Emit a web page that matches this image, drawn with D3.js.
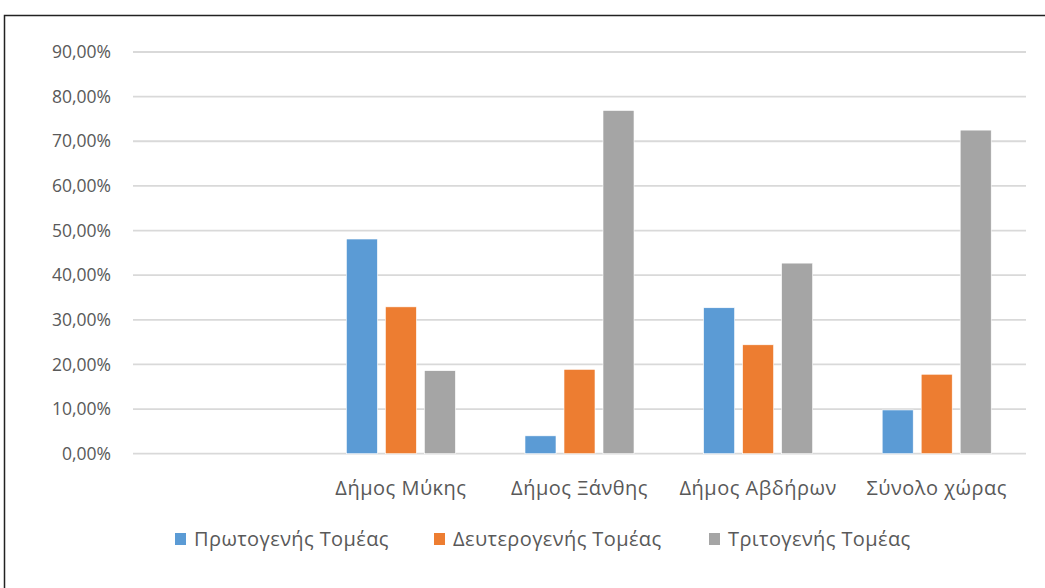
<!DOCTYPE html>
<html>
<head>
<meta charset="utf-8">
<script src="https://cdn.jsdelivr.net/npm/d3@7"></script>
<style>
  html, body { margin: 0; padding: 0; background: #fff; }
  svg { display: block; font-family: "Open Sans", sans-serif; }
</style>
</head>
<body>
<svg id="chart" width="1045" height="588"></svg>
<script>
// Categories (the first slot is an empty category in the source sheet)
const categories = ["", "Δήμος Μύκης", "Δήμος Ξάνθης", "Δήμος Αβδήρων", "Σύνολο χώρας"];
const seriesNames = ["Πρωτογενής Τομέας", "Δευτερογενής Τομέας", "Τριτογενής Τομέας"];
const primary   = [null, 0.481, 0.040, 0.327, 0.098];
const secondary = [null, 0.329, 0.189, 0.244, 0.178];
const tertiary  = [null, 0.186, 0.769, 0.427, 0.725];
const yTicks = [0, 0.1, 0.2, 0.3, 0.4, 0.5, 0.6, 0.7, 0.8, 0.9];
const colors = ["#5b9bd5", "#ed7d31", "#a5a5a5"];

const seriesValues = [primary, secondary, tertiary];
const svg = d3.select("#chart");
const textColor = "#595959";

// Chart frame
svg.append("rect")
  .attr("x", 4.5).attr("y", 15.5)
  .attr("width", 1100).attr("height", 700)
  .attr("fill", "none").attr("stroke", "#222").attr("stroke-width", 1.5);

const plot = { left: 133, right: 1026, top: 52, bottom: 453.7 };

const y = d3.scaleLinear().domain([0, 0.9]).range([plot.bottom, plot.top]);
const x0 = d3.scaleBand().domain(categories).range([plot.left, plot.right]).padding(0);
const x1 = d3.scaleBand().domain(seriesNames).range([0, x0.bandwidth()])
  .paddingInner(0.205).paddingOuter(0.892);

const fmt = v => d3.format(".2f")(v * 100).replace(".", ",") + "%";

// Gridlines
svg.append("g").selectAll("line").data(yTicks).join("line")
  .attr("x1", plot.left).attr("x2", plot.right)
  .attr("y1", d => y(d)).attr("y2", d => y(d))
  .attr("stroke", "#d9d9d9").attr("stroke-width", 1.8);

// Y axis labels
const yAxis = d3.axisLeft(y).tickValues(yTicks).tickFormat(fmt).tickSize(0).tickPadding(0);
const ya = svg.append("g").attr("transform", "translate(111,0)").call(yAxis);
ya.select(".domain").remove();
ya.selectAll("text")
  .attr("fill", textColor).style("font-size", "17.5px")
  .style("font-family", "'Open Sans', sans-serif");

// Bars
const groups = svg.append("g").selectAll("g").data(categories).join("g")
  .attr("transform", d => `translate(${x0(d)},0)`);

groups.selectAll("rect")
  .data((c, i) => seriesNames.map((s, j) => ({ s, j, v: seriesValues[j][i] })).filter(d => d.v != null))
  .join("rect")
  .attr("x", d => x1(d.s))
  .attr("width", x1.bandwidth())
  .attr("y", d => y(d.v))
  .attr("height", d => y(0) - y(d.v))
  .attr("fill", d => colors[d.j])
  .attr("stroke", "#fff").attr("stroke-width", 0.6);

// Category labels
const xAxis = d3.axisBottom(x0).tickSize(0).tickPadding(0);
const xa = svg.append("g").attr("transform", `translate(0,${plot.bottom})`).call(xAxis);
xa.select(".domain").remove();
xa.selectAll("text")
  .attr("y", 41).attr("dy", null)
  .attr("fill", textColor).style("font-size", "20px")
  .style("letter-spacing", "0.5px")
  .style("font-family", "'Open Sans', sans-serif");

// Legend
const legendX = [175, 434, 709];
const legend = svg.append("g").selectAll("g").data(seriesNames).join("g")
  .attr("transform", (d, i) => `translate(${legendX[i]},546)`);
legend.append("rect")
  .attr("x", 0).attr("y", -13).attr("width", 11).attr("height", 12)
  .attr("fill", (d, i) => colors[i]);
legend.append("text")
  .attr("x", 19).attr("y", 0)
  .attr("fill", textColor).style("font-size", "20px")
  .style("letter-spacing", "0.4px")
  .text(d => d);
</script>
</body>
</html>
